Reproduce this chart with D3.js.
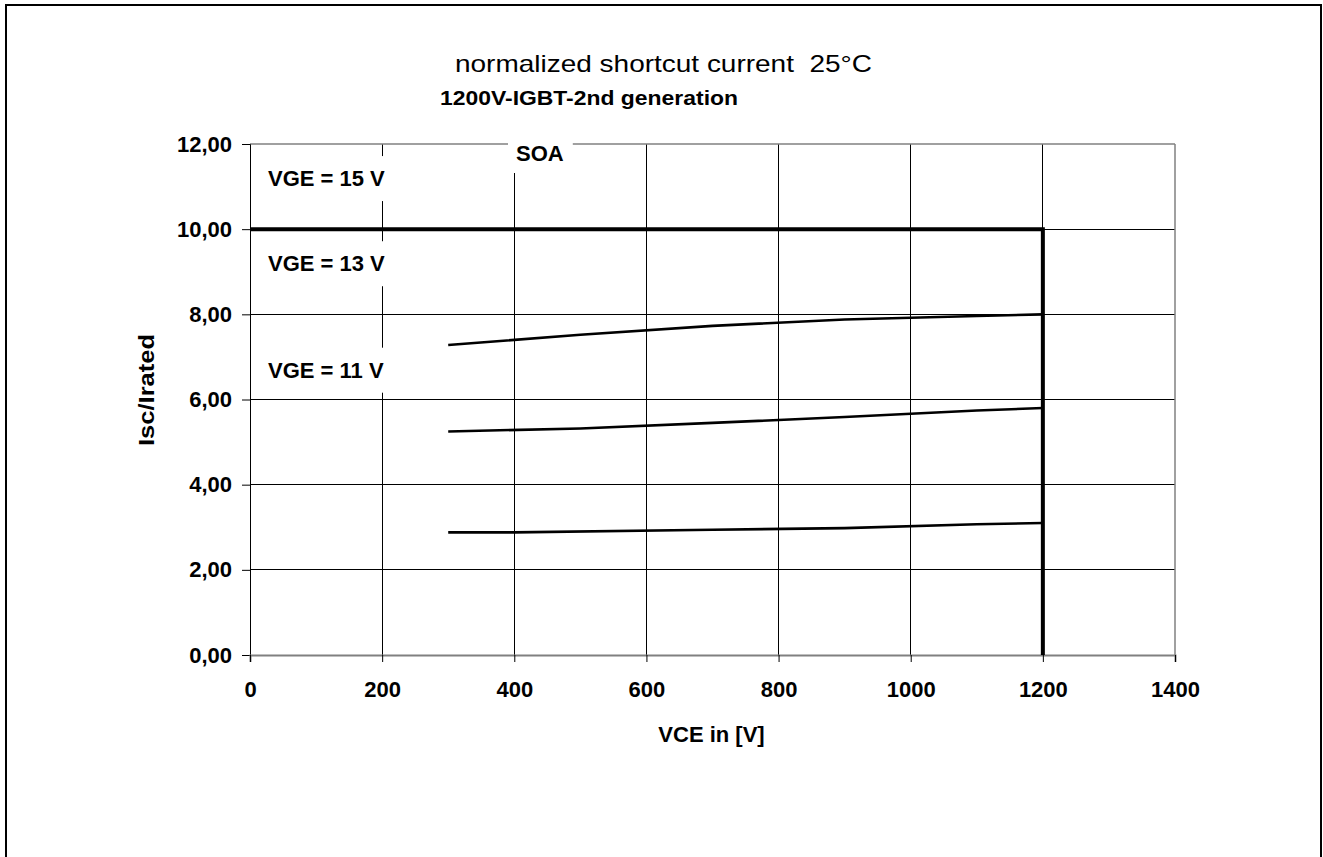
<!DOCTYPE html>
<html><head><meta charset="utf-8">
<script src="https://cdn.jsdelivr.net/npm/d3@7"></script>
<style>
html,body{margin:0;padding:0;background:#fff;}
svg{display:block;font-family:"Liberation Sans",Arial,sans-serif;}
</style></head>
<body>
<svg id="chart" width="1323" height="857"></svg>
<script>
// ---- data ----
const xTicks = [0, 200, 400, 600, 800, 1000, 1200, 1400];
const yTicks = [0, 2, 4, 6, 8, 10, 12];
const soaX = [0, 1200, 1200];
const soaY = [10, 10, 0];
const vge15X = [300, 500, 700, 900, 1100, 1200];
const vge15Y = [7.28, 7.52, 7.73, 7.88, 7.96, 8.00];
const vge13X = [300, 500, 700, 900, 1100, 1200];
const vge13Y = [5.25, 5.32, 5.45, 5.59, 5.74, 5.80];
const vge11X = [300, 400, 700, 900, 1100, 1200];
const vge11Y = [2.88, 2.88, 2.94, 2.98, 3.07, 3.10];
const labelTexts = ["VGE = 15 V", "VGE = 13 V", "VGE = 11 V"];
const labelYVals = [11.2, 9.2, 6.7];
const titleText = "normalized shortcut current  25°C";
const subtitleText = "1200V-IGBT-2nd generation";
const xTitle = "VCE in [V]";
const yTitle = "Isc/Irated";

const svg = d3.select("#chart");
const x = d3.scaleLinear().domain([0, 1400]).range([250, 1175]);
const y = d3.scaleLinear().domain([0, 12]).range([655, 144]);

// outer frame
svg.append("rect").attr("x", 6).attr("y", 5).attr("width", 1315).attr("height", 870)
  .attr("fill", "#fff").attr("stroke", "#000").attr("stroke-width", 2);

// titles
svg.append("text").attr("x", 455).attr("y", 72).attr("font-size", 24)
  .attr("textLength", 417).attr("lengthAdjust", "spacingAndGlyphs")
  .style("white-space", "pre").text(titleText);
svg.append("text").attr("x", 440).attr("y", 105).attr("font-size", 21).attr("font-weight", "bold")
  .attr("textLength", 298).attr("lengthAdjust", "spacingAndGlyphs").text(subtitleText);

// gridlines
const grid = svg.append("g");
grid.selectAll("line.v").data(xTicks.filter(d => d > 0 && d < 1400)).enter().append("line")
  .attr("x1", d => x(d)).attr("x2", d => x(d)).attr("y1", y(12)).attr("y2", y(0))
  .attr("stroke", "#000").attr("stroke-width", 1).attr("shape-rendering", "crispEdges");
grid.selectAll("line.h").data(yTicks.filter(d => d > 0 && d < 12)).enter().append("line")
  .attr("x1", x(0)).attr("x2", x(1400)).attr("y1", d => y(d)).attr("y2", d => y(d))
  .attr("stroke", "#000").attr("stroke-width", 1).attr("shape-rendering", "crispEdges");
// plot area border top & right (gray)
grid.append("line").attr("x1", x(0)).attr("x2", x(1400)).attr("y1", y(12)).attr("y2", y(12))
  .attr("stroke", "#808080").attr("stroke-width", 1.5);
grid.append("line").attr("x1", x(1400)).attr("x2", x(1400)).attr("y1", y(12)).attr("y2", y(0))
  .attr("stroke", "#808080").attr("stroke-width", 1.5);

// axes
const fmt = d => d.toFixed(2).replace(".", ",");
const yAxis = svg.append("g").attr("transform", `translate(${x(0)},0)`)
  .call(d3.axisLeft(y).tickValues(yTicks).tickFormat(fmt).tickSize(8).tickPadding(10));
yAxis.selectAll("text").attr("font-size", 22).attr("font-weight", "bold")
  .attr("font-family", "Liberation Sans, Arial, sans-serif").attr("fill", "#000");
yAxis.select(".domain").attr("stroke", "#000").attr("stroke-width", 1);
yAxis.selectAll(".tick line").attr("stroke", "#000");

const xAxis = svg.append("g").attr("transform", `translate(0,${y(0)})`)
  .call(d3.axisBottom(x).tickValues(xTicks).tickFormat(d3.format("d")).tickSize(7).tickPadding(19));
xAxis.selectAll("text").attr("font-size", 22).attr("font-weight", "bold")
  .attr("font-family", "Liberation Sans, Arial, sans-serif").attr("fill", "#000");
xAxis.select(".domain").attr("stroke", "#808080").attr("stroke-width", 2);
xAxis.selectAll(".tick line").attr("stroke", "#000");

// axis titles
svg.append("text").attr("x", (x(0) + x(1400)) / 2 - 1).attr("y", 742).attr("text-anchor", "middle")
  .attr("font-size", 22).attr("font-weight", "bold").text(xTitle);
svg.append("text").attr("transform", "translate(154,390) rotate(-90)").attr("text-anchor", "middle")
  .attr("font-size", 22).attr("font-weight", "bold")
  .attr("textLength", 112).attr("lengthAdjust", "spacingAndGlyphs").text(yTitle);

// labels with white boxes
const labG = svg.append("g");
labelTexts.forEach((t, i) => {
  const g = labG.append("g");
  const tx = g.append("text").attr("x", 268).attr("y", y(labelYVals[i]) + 8)
    .attr("font-size", 22).attr("font-weight", "bold").text(t);
  const b = tx.node().getBBox();
  g.insert("rect", "text").attr("x", b.x - 10).attr("y", b.y - 10)
    .attr("width", b.width + 20).attr("height", b.height + 20).attr("fill", "#fff");
});
{
  const g = labG.append("g");
  const tx = g.append("text").attr("x", 516).attr("y", 161)
    .attr("font-size", 22).attr("font-weight", "bold").text("SOA");
  const b = tx.node().getBBox();
  g.insert("rect", "text").attr("x", b.x - 8).attr("y", b.y - 2)
    .attr("width", b.width + 17).attr("height", b.height + 9).attr("fill", "#fff");
}

// data lines
const line = d3.line().x(d => x(d[0])).y(d => y(d[1]));
const zip = (a, b) => a.map((v, i) => [v, b[i]]);
svg.append("path").attr("d", line(zip(soaX, soaY))).attr("fill", "none")
  .attr("stroke", "#000").attr("stroke-width", 4).attr("stroke-linejoin", "miter");
[[vge15X, vge15Y], [vge13X, vge13Y], [vge11X, vge11Y]].forEach(([a, b]) => {
  svg.append("path").attr("d", line(zip(a, b))).attr("fill", "none")
    .attr("stroke", "#000").attr("stroke-width", 2.6).attr("stroke-linejoin", "round");
});
</script>
</body></html>
